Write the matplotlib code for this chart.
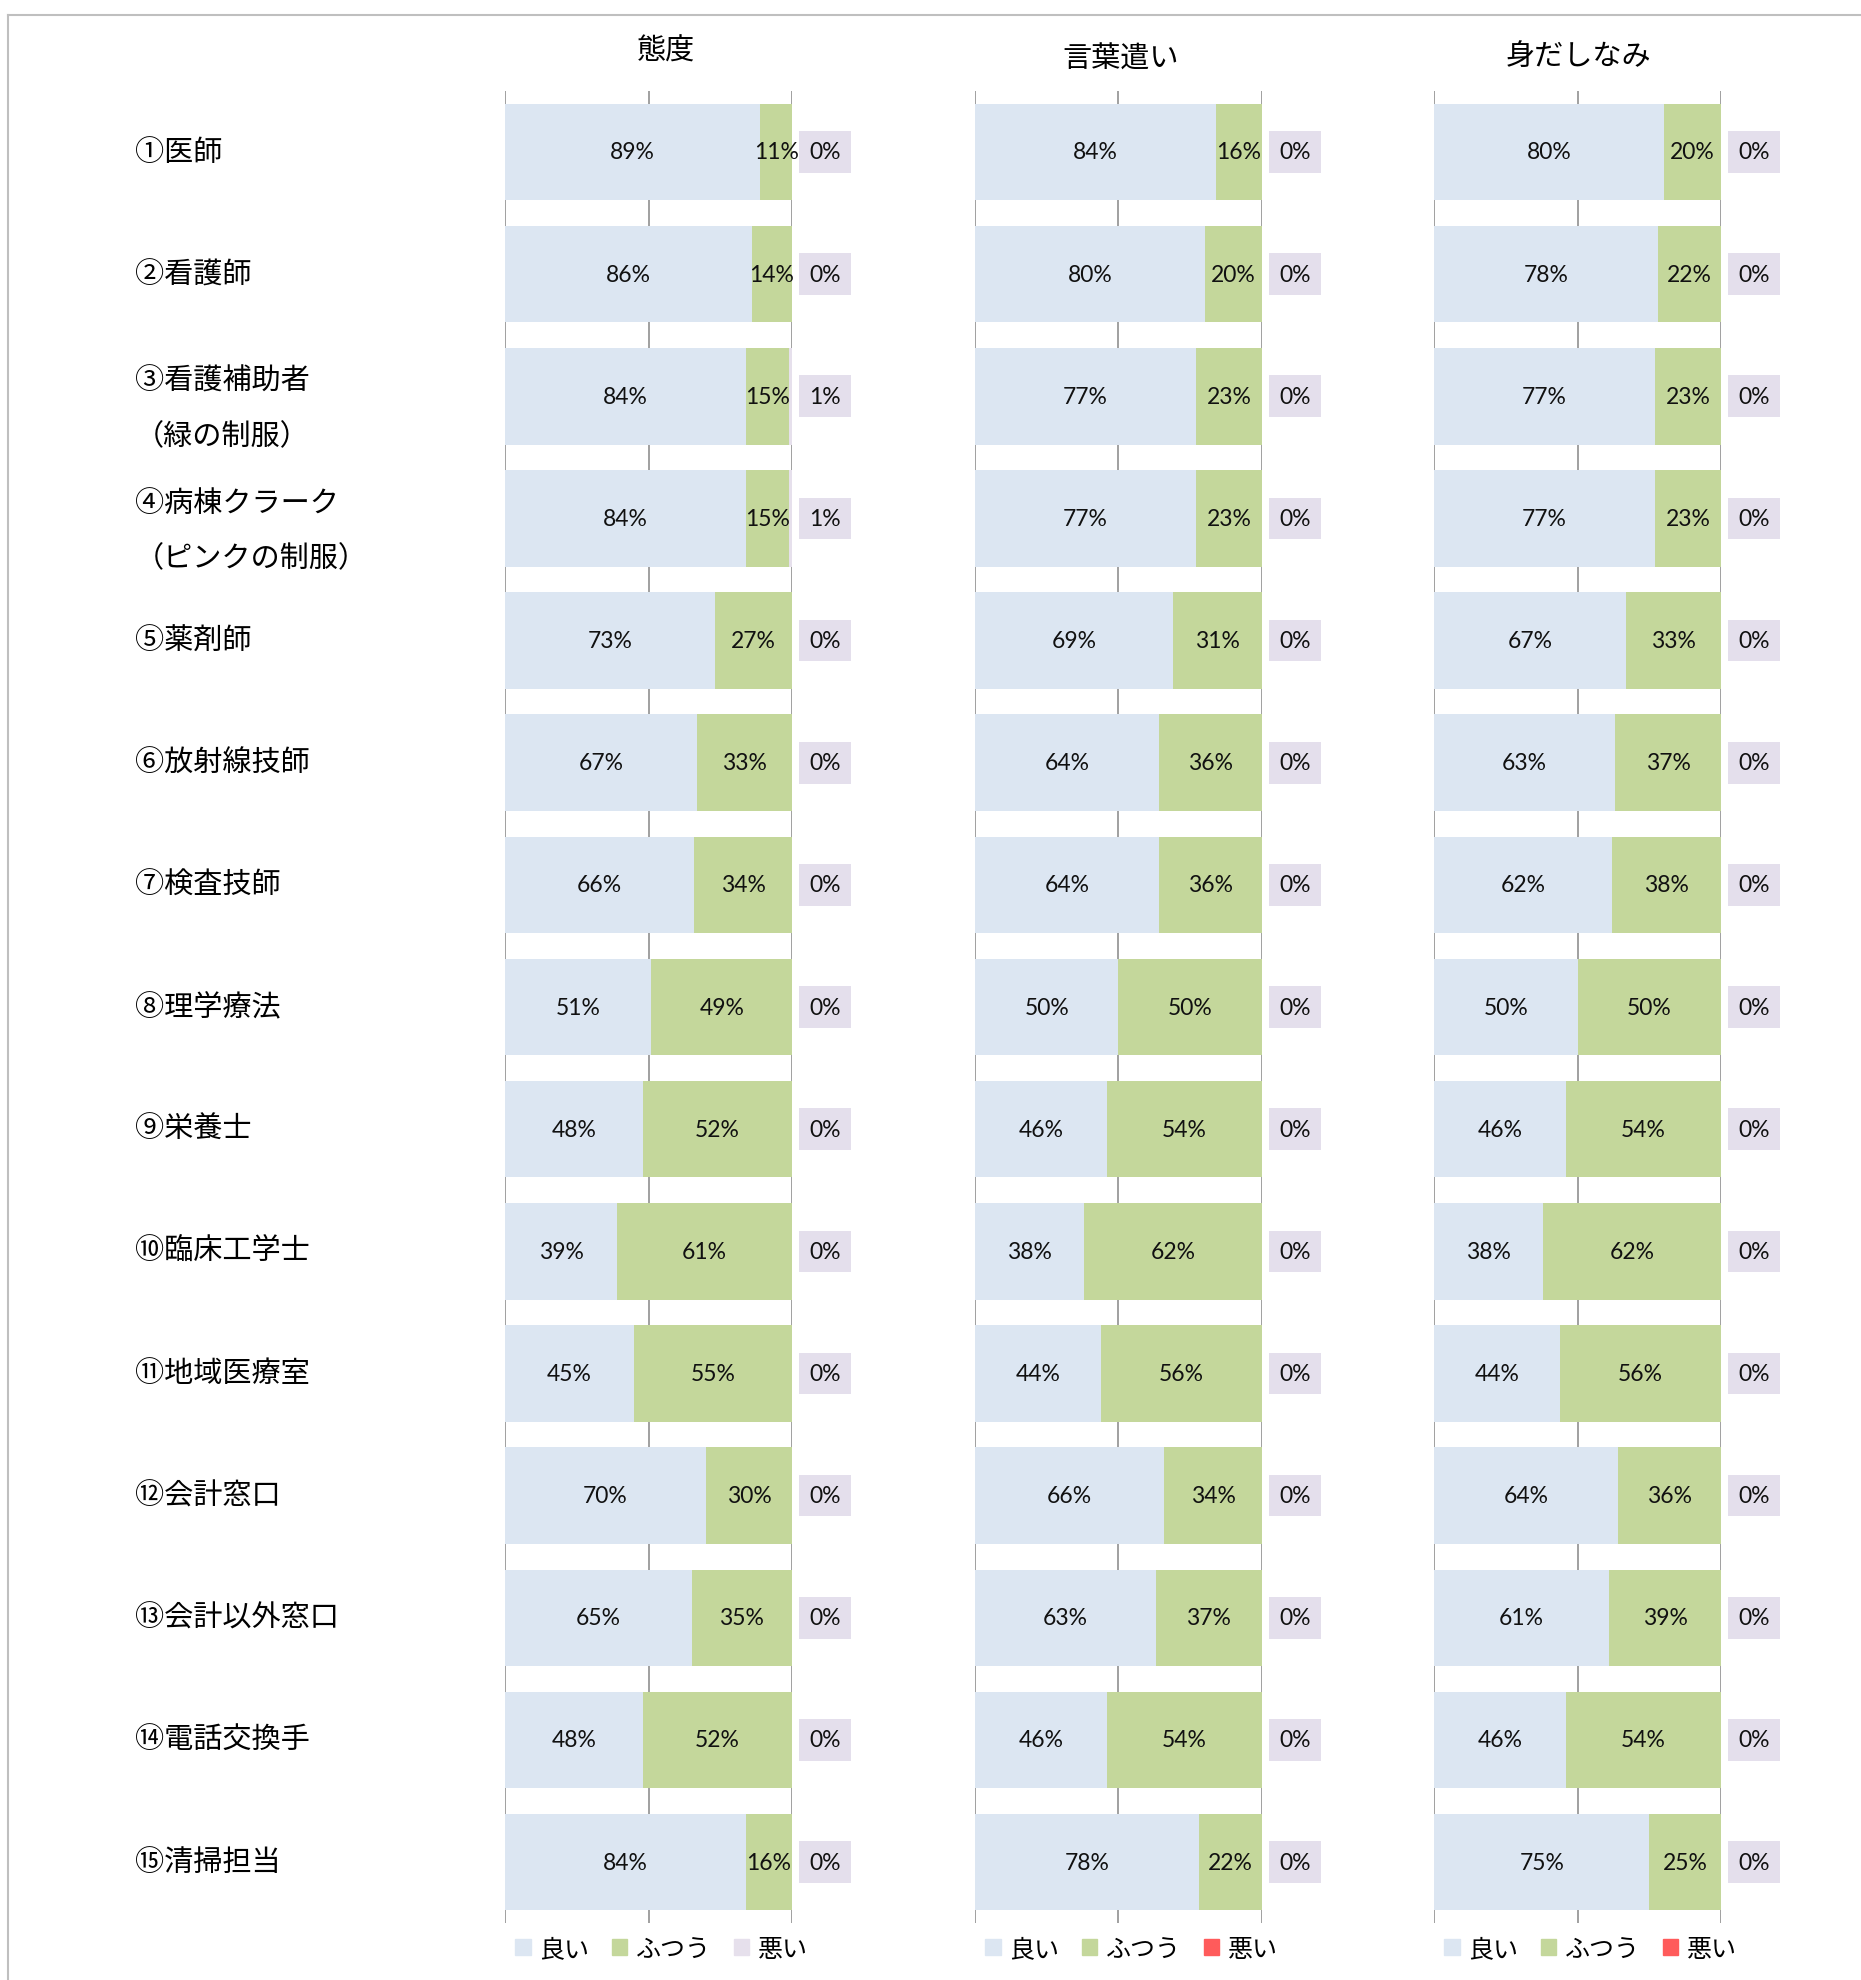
import numpy as np
import matplotlib.pyplot as plt
from matplotlib.patches import Patch
from matplotlib.lines import Line2D
from matplotlib.transforms import blended_transform_factory

plt.rcParams['font.family'] = ['Noto Sans CJK JP', 'DejaVu Sans']

categories = ["①医師", "②看護師", "③看護補助者\n（緑の制服）", "④病棟クラーク\n（ピンクの制服）",
              "⑤薬剤師", "⑥放射線技師", "⑦検査技師", "⑧理学療法", "⑨栄養士",
              "⑩臨床工学士", "⑪地域医療室", "⑫会計窓口", "⑬会計以外窓口",
              "⑭電話交換手", "⑮清掃担当"]
panel_titles = ["態度", "言葉遣い", "身だしなみ"]
legend_labels = ["良い", "ふつう", "悪い"]

# 態度
taido_good = [89, 86, 84, 84, 73, 67, 66, 51, 48, 39, 45, 70, 65, 48, 84]
taido_normal = [11, 14, 15, 15, 27, 33, 34, 49, 52, 61, 55, 30, 35, 52, 16]
taido_bad = [0, 0, 1, 1, 0, 0, 0, 0, 0, 0, 0, 0, 0, 0, 0]
# 言葉遣い
kotoba_good = [84, 80, 77, 77, 69, 64, 64, 50, 46, 38, 44, 66, 63, 46, 78]
kotoba_normal = [16, 20, 23, 23, 31, 36, 36, 50, 54, 62, 56, 34, 37, 54, 22]
kotoba_bad = [0] * 15
# 身だしなみ
midashi_good = [80, 78, 77, 77, 67, 63, 62, 50, 46, 38, 44, 64, 61, 46, 75]
midashi_normal = [20, 22, 23, 23, 33, 37, 38, 50, 54, 62, 56, 36, 39, 54, 25]
midashi_bad = [0] * 15

panel_data = [(taido_good, taido_normal, taido_bad),
              (kotoba_good, kotoba_normal, kotoba_bad),
              (midashi_good, midashi_normal, midashi_bad)]

c_good = "#DCE6F2"
c_normal = "#C4D79B"
c_bad_label = "#E4DFEC"
c_bad = ["#E6E0EC", "#FF5B5B", "#FF5B5B"]

fig = plt.figure(figsize=(18.61, 19.81), dpi=100)

lefts = [0.2714, 0.5239, 0.7706]
title_pos = [(0.358, 0.9738), (0.6024, 0.9697), (0.848, 0.9712)]
axes = []
y = np.arange(len(categories))
for k, (good, normal, bad) in enumerate(panel_data):
    ax = fig.add_axes([lefts[k], 0.0287, 0.1542, 0.9249])
    axes.append(ax)
    good = np.array(good)
    normal = np.array(normal)
    bad = np.array(bad)
    ax.barh(y, good, height=0.79, color=c_good, zorder=2)
    ax.barh(y, normal, left=good, height=0.79, color=c_normal, zorder=2)
    ax.barh(y, bad, left=good + normal, height=0.79, color=c_bad[k], zorder=2)
    for i in range(len(y)):
        ax.text(good[i] / 2, i, "{}%".format(good[i]), ha="center", va="center",
                fontsize=16.5, family="Lato", color="#111111", zorder=3)
        ax.text(good[i] + normal[i] / 2, i, "{}%".format(normal[i]), ha="center",
                va="center", fontsize=16.5, family="Lato", color="#111111", zorder=3)
        ax.text(111.5, i, "{}%".format(bad[i]), ha="center", va="center",
                fontsize=16.5, family="Lato", color="#111111", zorder=3,
                bbox=dict(facecolor=c_bad_label, edgecolor="none",
                          boxstyle="square,pad=0.45"))
    ax.set_xlim(0, 100)
    ax.set_ylim(len(y) - 0.5, -0.5)
    ax.set_xticks([0, 50, 100])
    ax.set_yticks([])
    ax.tick_params(length=0, labelbottom=False)
    ax.grid(axis="x", color="#868686", linewidth=1.1, zorder=0)
    ax.set_axisbelow(True)
    for s in ax.spines.values():
        s.set_visible(False)
    fig.text(title_pos[k][0], title_pos[k][1], panel_titles[k], ha="center",
             va="center", fontsize=21)
    handles = [Patch(color=c_good), Patch(color=c_normal), Patch(color=c_bad[k])]
    ax.legend(handles, legend_labels, loc="upper left", bbox_to_anchor=(0.035, -0.007),
              ncol=3, frameon=False, fontsize=18, handlelength=0.62, handleheight=0.62,
              handletextpad=0.35, columnspacing=0.9, borderpad=0, borderaxespad=0)

trans = blended_transform_factory(fig.transFigure, axes[0].transData)
for i, cat in enumerate(categories):
    # two-line labels sit a little lower than the bar centre
    dy = 0.1 if "\n" in cat else 0
    fig.text(0.0725, i + dy, cat, transform=trans, ha="left", va="center",
             fontsize=21, linespacing=2.1)

# outer frame (top and left edges)
fig.add_artist(Line2D([8 / 1861, 1], [1 - 16 / 1981, 1 - 16 / 1981],
                      transform=fig.transFigure, color="#BFBFBF", linewidth=1.5))
fig.add_artist(Line2D([8 / 1861, 8 / 1861], [0, 1 - 16 / 1981],
                      transform=fig.transFigure, color="#BFBFBF", linewidth=1.5))

fig.savefig("out.png", dpi=100)
